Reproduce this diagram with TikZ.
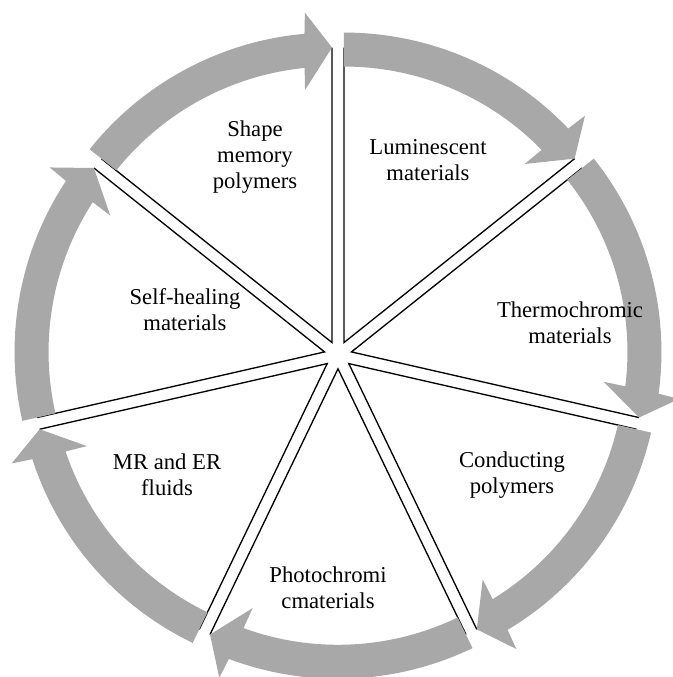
\documentclass[tikz,border=0pt]{standalone}
\usepackage{fontspec}
\setmainfont{Liberation Serif}
\definecolor{arrowgray}{RGB}{168,168,168}
\begin{document}
\begin{tikzpicture}[x=0.75pt,y=0.75pt,
  spoke/.style={line width=1pt, draw=black, line join=miter},
  ringarrow/.style={fill=arrowgray, draw=none},
  lbl/.style={font=\fontsize{17}{19.5}\selectfont, align=center, text=black, inner sep=0pt}]
\useasboundingbox (0,0) rectangle (673,677);
\coordinate (C) at (338,322);
\foreach \k in {0,...,6}{
  \pgfmathsetmacro{\a}{90-51.428571*\k}
  \pgfmathsetmacro{\b}{\a-51.428571}
  \pgfmathsetmacro{\m}{\a-25.714286}
  \begin{scope}[shift={(C)}]
  \begin{scope}[shift={(\m:13.8)}]
    \draw[spoke] (\a:295) -- (0,0) -- (\b:295);
    \fill[ringarrow] (\a:276) -- (\a:310)
      arc[start angle=\a, end angle=\b+5.1, radius=310]
      -- (\b+4.7:331) -- (\b:295) -- (\b+6.1:254) -- (\b+5.7:276)
      arc[start angle=\b+5.7, end angle=\a, radius=276] -- cycle;
  \end{scope}
  \end{scope}
}
\node[lbl] (shape) at (255,520) {Shape\\memory\\polymers};
\node[lbl] (lumi) at (428,517) {Luminescent\\materials};
\node[lbl] (thermo) at (570,354) {Thermochromic\\materials};
\node[lbl] (cond) at (512,202) {Conducting\\polymers};
\node[lbl] (photo) at (328,89) {Photochromi\\cmaterials};
\node[lbl] (mrer) at (167,202) {MR and ER\\fluids};
\node[lbl] (self) at (185,367) {Self-healing\\materials};
\end{tikzpicture}
\end{document}
